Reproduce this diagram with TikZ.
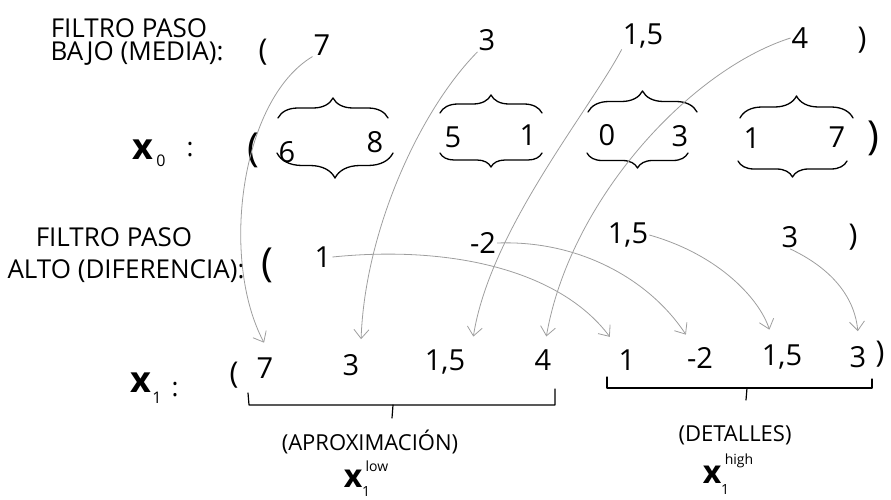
\documentclass[tikz,border=0pt]{standalone}
\usepackage{fontspec}
\setmainfont{Open Sans}
\usetikzlibrary{arrows.meta,decorations.pathreplacing}
\begin{document}
\begin{tikzpicture}[x=1pt,y=-1pt,
  lbl/.style={font=\fontsize{26}{28}\selectfont, inner sep=0pt},
  lblB/.style={font=\fontsize{22}{24}\selectfont, inner sep=0pt},
  num/.style={font=\fontsize{29}{31}\selectfont, inner sep=1pt},
  parA/.style={font=\fontsize{30}{32}\selectfont, inner sep=0pt},
  parB/.style={font=\fontsize{40}{42}\selectfont, inner sep=0pt},
  bigx/.style={font=\fontsize{36}{38}\selectfont\bfseries, inner sep=0pt},
  midx/.style={font=\fontsize{32}{34}\selectfont\bfseries, inner sep=0pt},
  tiny/.style={font=\fontsize{14}{14}\selectfont, inner sep=0pt},
  brc/.style={line width=1.3pt, line cap=round, line join=round, decorate},
  bkt/.style={line width=1.2pt, line cap=round, line join=round},
  arr/.style={draw=black!38, line width=0.8pt, shorten >=2pt,
    -{Straight Barb[length=9pt,width=15pt]}}
]
\path[use as bounding box] (0,0) rectangle (891,500);

% ---- row 1: low-pass filter
\node[lbl] (lp1) at (129,28) {FILTRO PASO};
\node[lbl] (lp2) at (137,54) {BAJO (MEDIA):};
\node[parA] (lpo) at (263,52) {(};
\node[num] (l7) at (322,45) {7};
\node[num] (l3) at (487,40) {3};
\node[num] (l15) at (643,36) {1,5};
\node[num] (l4) at (800,38) {4};
\node[parA] (lpc) at (862,40) {)};

% ---- row 2: x0
\node[bigx] (x0) at (143,150) {x};
\node[font=\fontsize{16}{16}\selectfont, inner sep=0pt] (x0s) at (161,161) {0};
\node[font=\fontsize{26}{28}\selectfont, inner sep=0pt] (x0c) at (190,150) {:};
\node[parB] (x0o) at (253,150) {(};
\node[num] (a6) at (287,152) {6};
\node[num] (a8) at (375,142) {8};
\node[num] (a5) at (453,137) {5};
\node[num] (a1) at (528,135) {1};
\node[num] (a0) at (607,135) {0};
\node[num] (a3) at (680,136) {3};
\node[num] (b1) at (752,138) {1};
\node[num] (b7) at (837,137) {7};
\node[parB] (x0c2) at (873,138) {)};

\draw[brc, decoration={brace, amplitude=20pt}] (278,118) -- (388,118);
\draw[brc, decoration={brace, amplitude=25pt}] (393,153) -- (277,153);
\draw[brc, decoration={brace, amplitude=18pt}] (440,113) -- (542,113);
\draw[brc, decoration={brace, amplitude=14pt}] (542,153) -- (440,153);
\draw[brc, decoration={brace, amplitude=21pt}] (588,112) -- (697,112);
\draw[brc, decoration={brace, amplitude=15pt}] (688,153) -- (587,153);
\draw[brc, decoration={brace, amplitude=22pt}] (740,118) -- (853,118);
\draw[brc, decoration={brace, amplitude=16pt}] (847,161) -- (738,161);

% ---- row 3: high-pass filter
\node[lbl] (hp1) at (114,237) {FILTRO PASO};
\node[lbl] (hp2) at (126,271) {ALTO (DIFERENCIA):};
\node[parB] (hpo) at (267,265) {(};
\node[num] (h1) at (323,257) {1};
\node[num] (hm2) at (483,243) {-2};
\node[num] (h15) at (628,235) {1,5};
\node[num] (h3) at (790,237) {3};
\node[parA] (hpc) at (853,237) {)};

% ---- row 4: x1
\node[bigx] (x1) at (141,383) {x};
\node[font=\fontsize{16}{16}\selectfont, inner sep=0pt] (x1s) at (157,398) {1};
\node[font=\fontsize{26}{28}\selectfont, inner sep=0pt] (x1c) at (175,390) {:};
\node[parA] (x1o) at (234,375) {(};
\node[num] (c7) at (265,368) {7};
\node[num] (c3) at (351,365) {3};
\node[num] (c15) at (445,362) {1,5};
\node[num] (c4) at (543,360) {4};
\node[num] (c1) at (627,360) {1};
\node[num] (cm2) at (700,358) {-2};
\node[num] (c15b) at (782,357) {1,5};
\node[num] (c3b) at (858,357) {3};
\node[parA] (x1c2) at (880,354) {)};

% brackets
\coordinate (k1a) at (248,393);
\coordinate (k1b) at (249,405);
\coordinate (k1c) at (555,405);
\coordinate (k1d) at (555,389);
\coordinate (k1m) at (393,405);
\coordinate (k1t) at (392,418);
\draw[bkt] (k1a) -- (k1b) -- (k1c) -- (k1d);
\draw[bkt] (k1m) -- (k1t);
\coordinate (k2a) at (607,377);
\coordinate (k2b) at (607,388);
\coordinate (k2c) at (872,388);
\coordinate (k2d) at (872,379);
\coordinate (k2m) at (747,388);
\coordinate (k2t) at (746,400);
\draw[bkt] (k2a) -- (k2b) -- (k2c) -- (k2d);
\draw[bkt] (k2m) -- (k2t);

\node[lblB] (apx) at (370,442) {(APROXIMACIÓN)};
\node[midx] (xlow) at (353,479) {x};
\node[tiny] (xlowsup) at (377,466) {low};
\node[tiny] (xlowsub) at (366,491) {1};
\node[lblB] (det) at (735,435) {(DETALLES)};
\node[midx] (xhigh) at (712,475) {x};
\node[tiny] (xhighsup) at (739,461) {high};
\node[tiny] (xhighsub) at (725,489) {1};

% ---- arrows: low-pass values
\draw[arr] (l7.south west) .. controls (240,100) and (220,260) .. ([yshift=12pt]c7.north);
\draw[arr] (l3.south west) .. controls (420,110) and (365,230) .. ([xshift=10pt,yshift=12pt]c3.north);
\draw[arr] (l15.south west) .. controls (590,110) and (490,230) .. ([xshift=28pt,yshift=10pt]c15.north);
\draw[arr] (l4.west) .. controls (690,70) and (570,200) .. ([xshift=3pt,yshift=10pt]c4.north);

% ---- arrows: high-pass values
\draw[arr] (h1.east) .. controls (450,245) and (560,270) .. ([xshift=-16pt,yshift=10pt]c1.north);
\draw[arr] (hm2.east) .. controls (580,240) and (650,280) .. ([xshift=-13pt,yshift=10pt]cm2.north);
\draw[arr] (h15.east) .. controls (720,255) and (760,300) .. ([xshift=-12pt,yshift=12pt]c15b.north);
\draw[arr] (h3.south) .. controls (835,270) and (855,300) .. ([yshift=12pt]c3b.north);
\end{tikzpicture}
\end{document}
